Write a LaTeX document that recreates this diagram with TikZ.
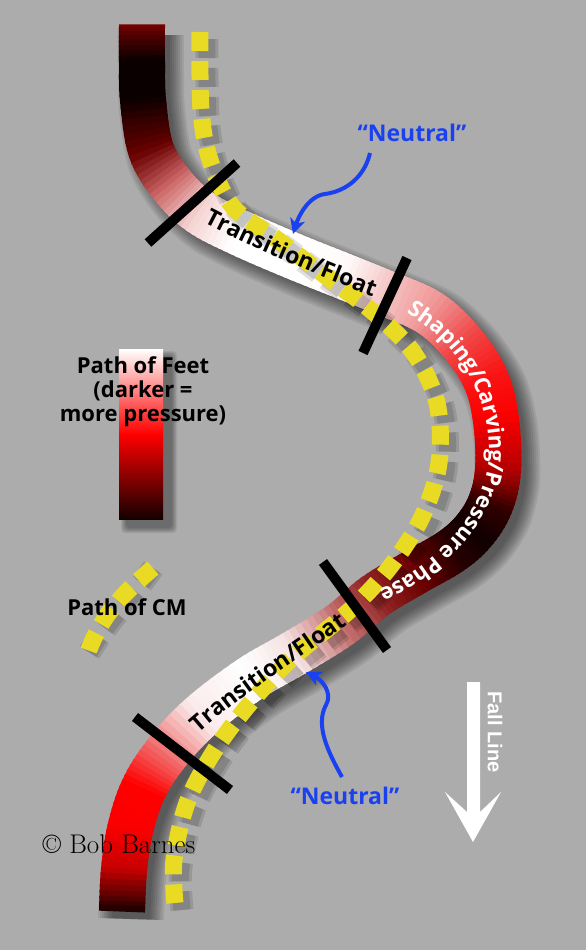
\documentclass[tikz,border=0pt]{standalone}
\usepackage{fontspec}
\newfontfamily\labfont{Open Sans}
\newfontfamily\arialfont{Liberation Sans}
\usetikzlibrary{decorations.text,arrows.meta}
\definecolor{bg}{RGB}{172,172,172}
\definecolor{cmyellow}{RGB}{233,218,35}
\definecolor{nblue}{RGB}{25,65,240}
% colours of the foot path at its key points
\definecolor{k0}{RGB}{125,0,0}
\definecolor{k1}{RGB}{10,0,0}
\definecolor{k2}{RGB}{10,0,0}
\definecolor{k3}{RGB}{105,0,0}
\definecolor{k4}{RGB}{205,103,103}
\definecolor{k5}{RGB}{245,210,210}
\definecolor{k6}{RGB}{255,255,255}
\definecolor{k7}{RGB}{255,255,255}
\definecolor{k8}{RGB}{255,250,250}
\definecolor{k9}{RGB}{245,200,200}
\definecolor{k10}{RGB}{240,150,150}
\definecolor{k11}{RGB}{240,70,70}
\definecolor{k12}{RGB}{250,20,20}
\definecolor{k13}{RGB}{250,0,0}
\definecolor{k14}{RGB}{180,0,0}
\definecolor{k15}{RGB}{50,0,0}
\definecolor{k16}{RGB}{15,0,0}
\definecolor{k17}{RGB}{40,0,0}
\definecolor{k18}{RGB}{105,0,0}
\definecolor{k19}{RGB}{145,35,35}
\definecolor{k20}{RGB}{195,110,110}
\definecolor{k21}{RGB}{245,225,225}
\definecolor{k22}{RGB}{255,255,255}
\definecolor{k23}{RGB}{250,235,235}
\definecolor{k24}{RGB}{240,110,110}
\definecolor{k25}{RGB}{255,0,0}
\definecolor{k26}{RGB}{250,0,0}
\definecolor{k27}{RGB}{200,0,0}
\definecolor{k28}{RGB}{25,0,0}
\newcommand\ribfont{\labfont\bfseries\fontsize{23}{23}\selectfont}
\newcommand\ribfontb{\labfont\bfseries\fontsize{22}{22}\selectfont}
\def\RX{{142,142,143,151,172,200,240,293,343,385,430,463,486,496,498,490,473,450,415,375,340,293,250,200,165,143,130,124,122}}
\def\RY{{26,62,100,150,185,212,233,256,276,293,313,344,380,420,470,505,532,552,572,596,625,654,679,717,755,790,830,870,910}}
\newcommand\bez[5]{(1-#1)^3*#2+3*(1-#1)^2*#1*#3+3*(1-#1)*#1^2*#4+#1^3*#5}
\def\ribbonpath{plot[smooth,tension=0.5] coordinates {(142,26) (142,62) (143,100) (151,150) (172,185) (200,212) (240,233) (293,256) (343,276) (385,293) (430,313) (463,344) (486,380) (496,420) (498,470) (490,505) (473,532) (450,552) (415,572) (375,596) (340,625) (293,654) (250,679) (200,717) (165,755) (143,790) (130,830) (124,870) (122,910)}}
\def\cmpath{plot[smooth,tension=0.55] coordinates {(200,32) (201,110) (210,160) (233,207) (278,240) (327,277) (373,312) (413,352) (437,403) (439,463) (422,517) (390,567) (350,610) (290,660) (247,707) (213,753) (187,803) (174,860) (175,903)}}
\tikzset{
  ribpiece/.style={line width=46pt, shorten <=-1.6pt, shorten >=-1.6pt},
  barline/.style={line width=10pt, draw=black},
  cmdash/.style={line width=17pt, draw=cmyellow, dash pattern=on 19pt off 10pt},
  cmshadow/.style={line width=#1, draw=black, draw opacity=0.12, dash pattern=on 19pt off 10pt, xshift=7pt, yshift=-7pt},
  neutralarrow/.style={draw=nblue, line width=4pt, -{Stealth[length=15pt,width=15pt,inset=4pt]}},
  neutraltxt/.style={text=nblue, font=\labfont\bfseries\fontsize{23}{23}\selectfont, inner sep=0pt},
  legtxt/.style={font=\labfont\bfseries\fontsize{22}{24}\selectfont, align=center, inner sep=0pt},
}
\begin{document}
\begin{tikzpicture}[x=1pt,y=-1pt]
\useasboundingbox (0,0) rectangle (586,950);
\fill[bg] (0,0) rectangle (586,950);
% ---------- legend: path of feet ----------
\foreach \k in {0,...,5}{
  \fill[black, opacity=0.07, rounded corners=4pt] (126-\k,356-\k) rectangle (172+\k,528+\k);
}
\shade[top color=white, bottom color={rgb,255:red,20;green,0;blue,0}, middle color=red] (119,349) rectangle (163,519);
\node[legtxt] (legfeet) at (143,392) {Path of Feet\\(darker =\\more pressure)};
% ---------- legend: path of CM ----------
\coordinate (lcma) at (153,568);
\coordinate (lcmb) at (86,658);
\draw[cmshadow=17pt] (lcma) .. controls (125,592) and (100,615) .. (lcmb);
\draw[cmshadow=23pt] (lcma) .. controls (125,592) and (100,615) .. (lcmb);
\draw[cmdash] (lcma) .. controls (125,592) and (100,615) .. (lcmb);
\node[legtxt] (legcm) at (127,607) {Path of CM};
% ---------- ribbon shadow ----------
\foreach \k in {0,...,7}{
  \pgfmathsetmacro\lw{38+4*\k}
  \draw[line width=\lw pt, draw=black, draw opacity=0.075, xshift=9pt, yshift=-9pt] \ribbonpath;
}
% ---------- ribbon: Catmull-Rom pieces with graded colour ----------
\foreach \i in {0,...,27}{
  \pgfmathtruncatemacro\qim{max(\i-1,0)}
  \pgfmathtruncatemacro\qia{\i+1}
  \pgfmathtruncatemacro\qib{min(\i+2,28)}
  \pgfmathsetmacro\qax{\RX[\i]}
  \pgfmathsetmacro\qay{\RY[\i]}
  \pgfmathsetmacro\qdx{\RX[\qia]}
  \pgfmathsetmacro\qdy{\RY[\qia]}
  \pgfmathsetmacro\qbx{\qax+(\qdx-\RX[\qim])/6}
  \pgfmathsetmacro\qby{\qay+(\qdy-\RY[\qim])/6}
  \pgfmathsetmacro\qcx{\qdx-(\RX[\qib]-\qax)/6}
  \pgfmathsetmacro\qcy{\qdy-(\RY[\qib]-\qay)/6}
  \foreach \j in {0,...,7}{
    \pgfmathsetmacro\qta{\j/8}
    \pgfmathsetmacro\qtb{(\j+1)/8}
    \pgfmathsetmacro\qxa{\bez{\qta}{\qax}{\qbx}{\qcx}{\qdx}}
    \pgfmathsetmacro\qya{\bez{\qta}{\qay}{\qby}{\qcy}{\qdy}}
    \pgfmathsetmacro\qxb{\bez{\qtb}{\qax}{\qbx}{\qcx}{\qdx}}
    \pgfmathsetmacro\qyb{\bez{\qtb}{\qay}{\qby}{\qcy}{\qdy}}
    \pgfmathsetmacro\qpc{(\j+0.5)*12.5}
    \edef\qcol{k\qia!\qpc!k\i}
    \draw[ribpiece, draw=\qcol] (\qxa,\qya) -- (\qxb,\qyb);
  }
}
% ---------- path of CM ----------
\draw[cmshadow=17pt] \cmpath;
\draw[cmshadow=23pt] \cmpath;
\draw[cmdash] \cmpath;
% ---------- texts along the ribbon ----------
\coordinate (t1a) at (193,217); \coordinate (t1b) at (384,301);
\path[decorate, decoration={text along path, text align=center, text={|\ribfont|Transition/Float}}]
  (t1a) .. controls (238,242) and (320,277) .. (t1b);
\coordinate (t2a) at (373,297); \coordinate (t2m) at (489,447); \coordinate (t2b) at (344,603);
\path[decorate, decoration={text along path, text align=center, text color=white, text={|\ribfontb|Shaping/Carving/Pressure Phase}}]
  (t2a) .. controls (450,326) and (487,384) .. (t2m) .. controls (491,514) and (430,578) .. (t2b);
\coordinate (t3a) at (168,763); \coordinate (t3b) at (382,600);
\path[decorate, decoration={text along path, text align=center, text={|\ribfont|Transition/Float}}]
  (t3a) .. controls (218,707) and (300,660) .. (t3b);
% ---------- phase bars ----------
\coordinate (b1a) at (148,243); \coordinate (b1b) at (237,163);
\coordinate (b2a) at (363,353); \coordinate (b2b) at (407,258);
\coordinate (b3a) at (323,562); \coordinate (b3b) at (387,650);
\coordinate (b4a) at (135,717); \coordinate (b4b) at (230,790);
\draw[barline] (b1a) -- (b1b);
\draw[barline] (b2a) -- (b2b);
\draw[barline] (b3a) -- (b3b);
\draw[barline] (b4a) -- (b4b);
% ---------- neutral labels ----------
\node[neutraltxt] (neutral1) at (412,133) {“Neutral”};
\coordinate (n1s) at (370,153);
\coordinate (n1t) at (293,234);
\draw[neutralarrow] (n1s) .. controls (365,175) and (348,191) .. (325,194) .. controls (309,196) and (299,215) .. (n1t);
\node[neutraltxt] (neutral2) at (345,796) {“Neutral”};
\coordinate (n2s) at (342,777);
\coordinate (n2t) at (306,672);
\draw[neutralarrow] (n2s) .. controls (328,752) and (315,725) .. (326,705) .. controls (333,693) and (322,680) .. (n2t);
% ---------- fall line ----------
\fill[white] (467,682) -- (480,682) -- (480,812) -- (501,792) -- (473,842) -- (445,792) -- (467,812) -- cycle;
\node[text=white, font=\arialfont\bfseries\fontsize{20}{20}\selectfont, rotate=-90, inner sep=0pt] (fall) at (495,732) {Fall Line};
% ---------- copyright ----------
\node[anchor=base, inner sep=0pt, font=\fontsize{27}{27}\selectfont] (copy) at (119,853) {© Bob Barnes};
\end{tikzpicture}
\end{document}
